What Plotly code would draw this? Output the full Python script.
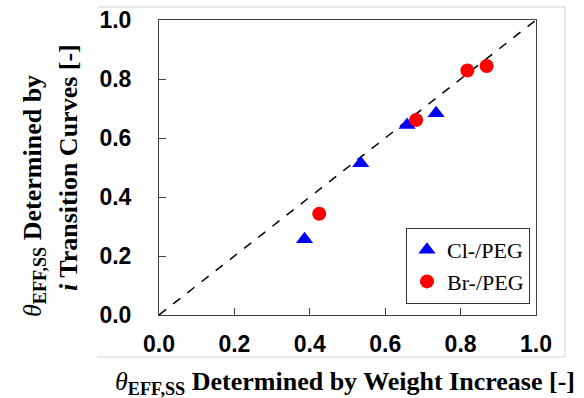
import plotly.graph_objects as go

# Data
cl_x = [0.386, 0.535, 0.658, 0.735]
cl_y = [0.257, 0.514, 0.644, 0.684]
br_x = [0.425, 0.682, 0.818, 0.869]
br_y = [0.343, 0.661, 0.829, 0.844]
diag = [0.0, 1.0]
tick_vals = [0.0, 0.2, 0.4, 0.6, 0.8, 1.0]
tick_text = ["0.0", "0.2", "0.4", "0.6", "0.8", "1.0"]

W, H = 584, 398
L, R, T, B = 159, 48, 20, 83
pw, ph = W - L - R, H - T - B

def px_x(p):
    return (p - L) / pw

def px_y(p):
    return (H - B - p) / ph

fig = go.Figure()
fig.add_trace(go.Scatter(x=diag, y=diag, mode="lines",
                         line=dict(color="black", width=1.5, dash="dash"),
                         showlegend=False, hoverinfo="skip"))
fig.add_trace(go.Scatter(x=cl_x, y=cl_y, mode="markers", name="Cl-/PEG",
                         marker=dict(symbol="triangle-up", size=15, color="#0000FF")))
fig.add_trace(go.Scatter(x=br_x, y=br_y, mode="markers", name="Br-/PEG",
                         marker=dict(symbol="circle", size=14, color="#FF0000")))

axis_common = dict(range=[0, 1], tickvals=tick_vals, ticktext=tick_text,
                   ticks="inside", ticklen=7, tickcolor="#404040",
                   showline=True, linecolor="#404040", linewidth=1, mirror=True,
                   showgrid=False, zeroline=False, automargin=False,
                   tickfont=dict(family="Liberation Sans", size=23, color="black",
                                 weight="bold"))

fig.update_xaxes(**axis_common, ticklabelstandoff=8)
fig.update_yaxes(**axis_common, ticklabelstandoff=22)

serif = "Liberation Serif"
fs = 26
fig.add_annotation(xref="paper", yref="paper", x=px_x(34), y=px_y(196),
                   text="<i>θ</i><b><sub>EFF,SS</sub> Determined by</b>",
                   textangle=-90, showarrow=False, xanchor="center", yanchor="middle",
                   font=dict(family=serif, size=fs, color="black"))
fig.add_annotation(xref="paper", yref="paper", x=px_x(68), y=px_y(168),
                   text="<b><i>i</i> Transition Curves [-]</b>",
                   textangle=-90, showarrow=False, xanchor="center", yanchor="middle",
                   font=dict(family=serif, size=fs, color="black"))
fig.add_annotation(xref="paper", yref="paper", x=px_x(345), y=px_y(383),
                   text="<i>θ</i><b><sub>EFF,SS</sub> Determined by Weight Increase [-]</b>",
                   showarrow=False, xanchor="center", yanchor="middle",
                   font=dict(family=serif, size=fs, color="black"))

# light grey frame around the chart region
gc = "#d4d4d4"
x0, x1 = px_x(97), px_x(565)
y0, y1 = px_y(357), px_y(7)
for (a, b, c, d) in [(x0, y1, x1, y1), (x1, y1, x1, y0), (x0, y0, x1, y0)]:
    fig.add_shape(type="line", xref="paper", yref="paper", x0=a, y0=b, x1=c, y1=d,
                  line=dict(color=gc, width=1), layer="below")

fig.update_layout(
    width=W, height=H,
    margin=dict(l=L, r=R, t=T, b=B, autoexpand=False),
    plot_bgcolor="white", paper_bgcolor="white",
    legend=dict(x=px_x(530), y=px_y(304), xanchor="right", yanchor="bottom",
                bordercolor="#333333", borderwidth=1, bgcolor="white",
                font=dict(family=serif, size=22, color="black"),
                itemwidth=30, tracegroupgap=0),
)

fig.write_html("out.html", config={"displayModeBar": False},
               post_script="document.body.style.margin='0';document.body.style.padding='0';")
